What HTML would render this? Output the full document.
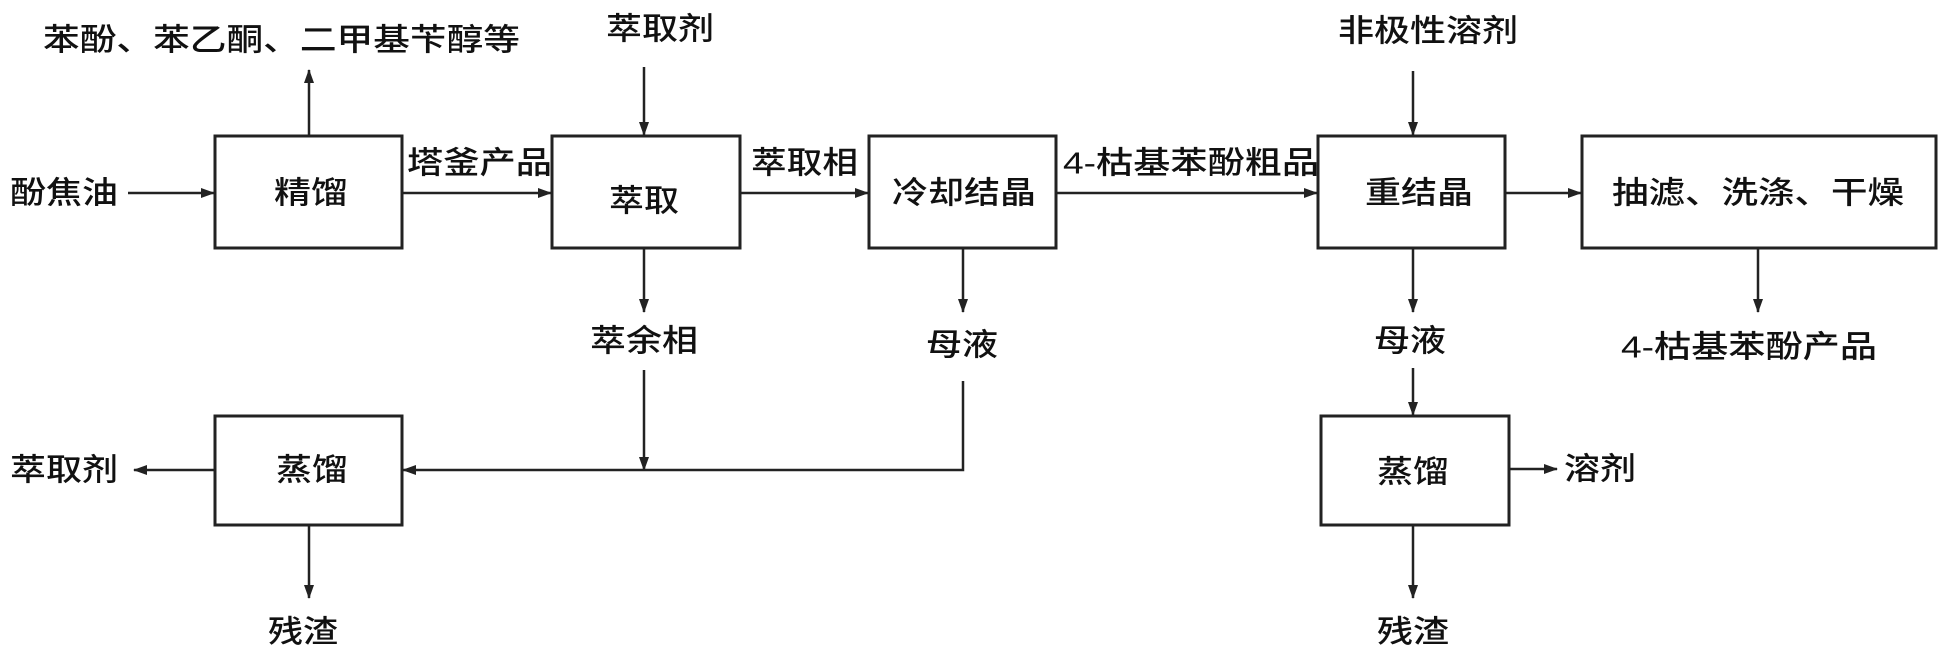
<!DOCTYPE html>
<html><head><meta charset="utf-8"><style>
html,body{margin:0;padding:0;background:#fff;}
svg{display:block}
text{font-family:"Liberation Sans","Noto Sans CJK SC",sans-serif;font-size:31px;fill:#111;dominant-baseline:central;font-weight:500;}
</style></head><body>
<svg width="1945" height="656" viewBox="0 0 1945 656" xmlns="http://www.w3.org/2000/svg">
<defs>
<marker id="a" markerWidth="14" markerHeight="12" refX="13" refY="6" orient="auto" markerUnits="userSpaceOnUse">
<path d="M0,1 L14,6 L0,11 Z" fill="#222"/>
</marker>
</defs>
<g fill="none" stroke="#222" stroke-width="3">
<rect x="215" y="136" width="187" height="112"/>
<rect x="552" y="136" width="188" height="112"/>
<rect x="869" y="136" width="187" height="112"/>
<rect x="1318" y="136" width="187" height="112"/>
<rect x="1582" y="136" width="354" height="112"/>
<rect x="215" y="416" width="187" height="109"/>
<rect x="1321" y="416" width="188" height="109"/>
</g>
<g stroke="#222" stroke-width="2.5" fill="none" marker-end="url(#a)">
<line x1="128" y1="193" x2="214" y2="193"/>
<line x1="309" y1="136" x2="309" y2="70"/>
<line x1="402" y1="193" x2="551" y2="193"/>
<line x1="644" y1="67" x2="644" y2="135"/>
<line x1="740" y1="193" x2="868" y2="193"/>
<line x1="1056" y1="193" x2="1317" y2="193"/>
<line x1="1413" y1="71" x2="1413" y2="135"/>
<line x1="1505" y1="193" x2="1581" y2="193"/>
<line x1="644" y1="248" x2="644" y2="312"/>
<line x1="963" y1="248" x2="963" y2="312"/>
<line x1="1413" y1="248" x2="1413" y2="312"/>
<line x1="1758" y1="248" x2="1758" y2="312"/>
<line x1="644" y1="370" x2="644" y2="470"/>
<polyline points="963,381 963,470 403,470"/>
<line x1="215" y1="470" x2="134" y2="470"/>
<line x1="309" y1="525" x2="309" y2="598"/>
<line x1="1413" y1="368" x2="1413" y2="415"/>
<line x1="1509" y1="469" x2="1557" y2="469"/>
<line x1="1413" y1="525" x2="1413" y2="598"/>
</g>
<text x="43" y="40" textLength="477" lengthAdjust="spacingAndGlyphs">苯酚、苯乙酮、二甲基苄醇等</text>
<text x="606" y="29" textLength="108" lengthAdjust="spacingAndGlyphs">萃取剂</text>
<text x="1338" y="31" textLength="180" lengthAdjust="spacingAndGlyphs">非极性溶剂</text>
<text x="10" y="193" textLength="108" lengthAdjust="spacingAndGlyphs">酚焦油</text>
<text x="407" y="163" textLength="145" lengthAdjust="spacingAndGlyphs">塔釜产品</text>
<text x="751" y="163" textLength="107" lengthAdjust="spacingAndGlyphs">萃取相</text>
<text x="1063" y="163" textLength="256" lengthAdjust="spacingAndGlyphs">4-枯基苯酚粗品</text>
<text x="274" y="193" textLength="74" lengthAdjust="spacingAndGlyphs">精馏</text>
<text x="609" y="201" textLength="70" lengthAdjust="spacingAndGlyphs">萃取</text>
<text x="892" y="193" textLength="144" lengthAdjust="spacingAndGlyphs">冷却结晶</text>
<text x="1365" y="193" textLength="108" lengthAdjust="spacingAndGlyphs">重结晶</text>
<text x="1612" y="193" textLength="292" lengthAdjust="spacingAndGlyphs">抽滤、洗涤、干燥</text>
<text x="590" y="341" textLength="108" lengthAdjust="spacingAndGlyphs">萃余相</text>
<text x="926" y="345" textLength="72" lengthAdjust="spacingAndGlyphs">母液</text>
<text x="1374" y="341" textLength="72" lengthAdjust="spacingAndGlyphs">母液</text>
<text x="1621" y="347" textLength="256" lengthAdjust="spacingAndGlyphs">4-枯基苯酚产品</text>
<text x="10" y="470" textLength="108" lengthAdjust="spacingAndGlyphs">萃取剂</text>
<text x="276" y="470" textLength="72" lengthAdjust="spacingAndGlyphs">蒸馏</text>
<text x="1377" y="472" textLength="72" lengthAdjust="spacingAndGlyphs">蒸馏</text>
<text x="1564" y="469" textLength="72" lengthAdjust="spacingAndGlyphs">溶剂</text>
<text x="268" y="632" textLength="70" lengthAdjust="spacingAndGlyphs">残渣</text>
<text x="1377" y="632" textLength="72" lengthAdjust="spacingAndGlyphs">残渣</text>
</svg>
</body></html>
